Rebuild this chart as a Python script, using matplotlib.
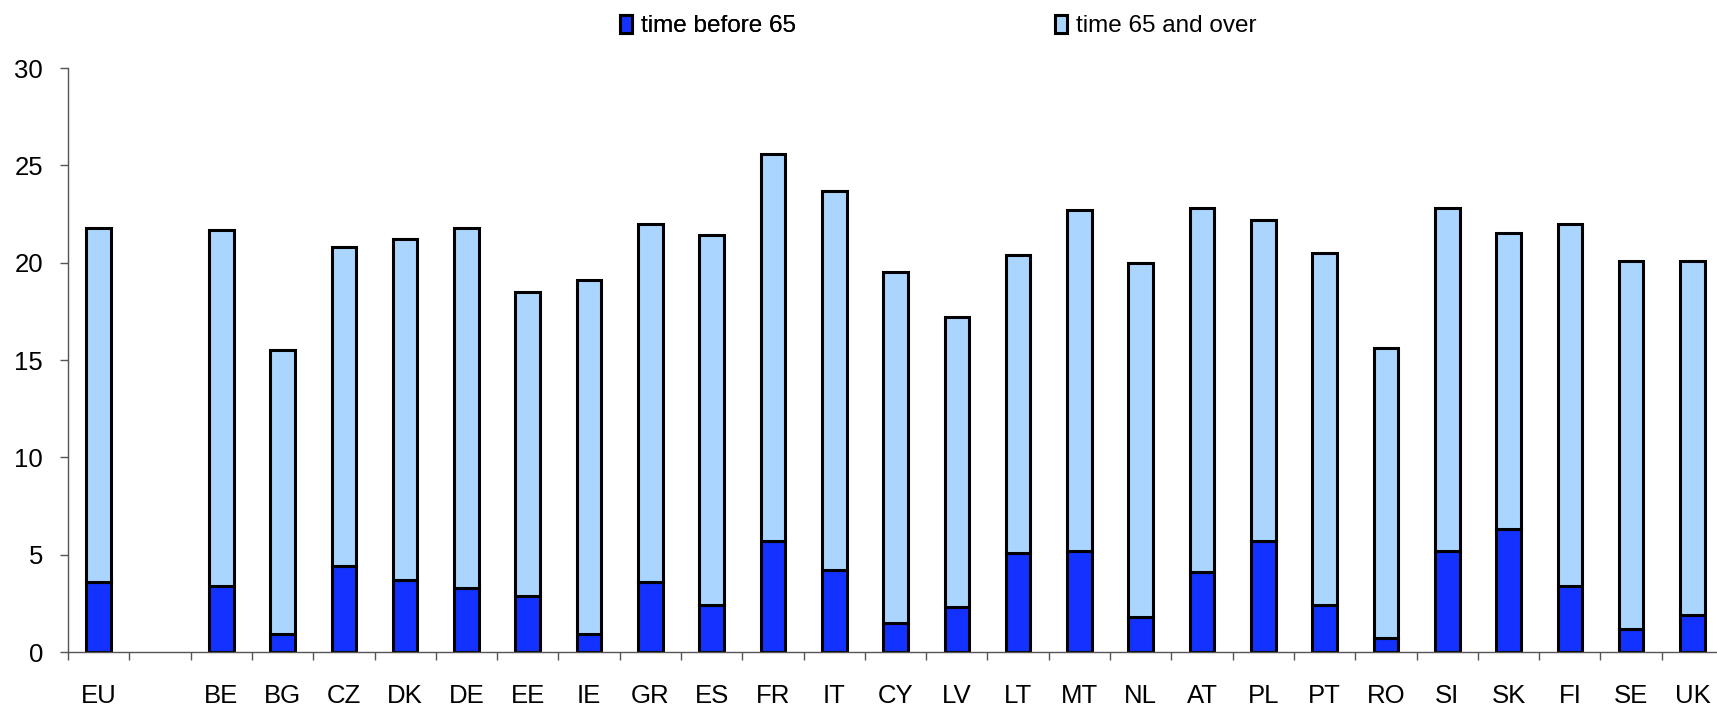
import numpy as np
import matplotlib
matplotlib.use("Agg")
import matplotlib.pyplot as plt

plt.rcParams['font.family'] = ['Liberation Sans', 'DejaVu Sans']

countries = ["EU", "", "BE", "BG", "CZ", "DK", "DE", "EE", "IE", "GR", "ES", "FR", "IT",
             "CY", "LV", "LT", "MT", "NL", "AT", "PL", "PT", "RO", "SI", "SK", "FI", "SE", "UK"]
before_65 = [3.6, np.nan, 3.4, 0.9, 4.4, 3.7, 3.3, 2.9, 0.9, 3.6, 2.4, 5.7, 4.2,
             1.5, 2.3, 5.1, 5.2, 1.8, 4.1, 5.7, 2.4, 0.7, 5.2, 6.3, 3.4, 1.2, 1.9]
over_65 = [18.2, np.nan, 18.3, 14.6, 16.4, 17.5, 18.5, 15.6, 18.2, 18.4, 19.0, 19.9, 19.5,
           18.0, 14.9, 15.3, 17.5, 18.2, 18.7, 16.5, 18.1, 14.9, 17.6, 15.2, 18.6, 18.9, 18.2]

fig = plt.figure(figsize=(17.17, 7.08), dpi=100)
ax = fig.add_axes([68/1717, 56/708, 27*61.3/1717, 584/708])

x = np.arange(len(countries))
b1 = ax.bar(x, before_65, 0.4, color='#1432ff', edgecolor='black', linewidth=2.2,
            label='time before 65')
b2 = ax.bar(x, over_65, 0.4, bottom=before_65, color='#a9d5ff', edgecolor='black',
            linewidth=2.2, label='time 65 and over')

ax.set_xlim(-0.5, len(countries) - 0.5)
ax.set_ylim(0, 30)
ax.set_yticks(range(0, 31, 5))
ax.set_xticks(x)
ax.set_xticklabels(countries)
ax.set_xticks(np.arange(-0.5, len(countries), 1), minor=True)
ax.tick_params(axis='x', which='major', length=0, pad=23, labelsize=18.5)
ax.tick_params(axis='x', which='minor', length=6, width=1, color='#555555', direction='out')
ax.tick_params(axis='y', length=6, width=1, color='#555555', pad=12, labelsize=18.5)

for s in ['top', 'right']:
    ax.spines[s].set_visible(False)
for s in ['left', 'bottom']:
    ax.spines[s].set_color('#555555')
    ax.spines[s].set_linewidth(1)

leg_kw = dict(loc='upper left', frameon=False, fontsize=17.5, handlelength=0.5,
              handleheight=0.75, handletextpad=0.35, borderpad=0, borderaxespad=0)
leg1 = fig.legend(handles=[b1], bbox_to_anchor=(620/1717, 0.979), **leg_kw)
fig.add_artist(leg1)
fig.legend(handles=[b2], bbox_to_anchor=(1055/1717, 0.979), **leg_kw)

fig.savefig('out.png', dpi=100)
